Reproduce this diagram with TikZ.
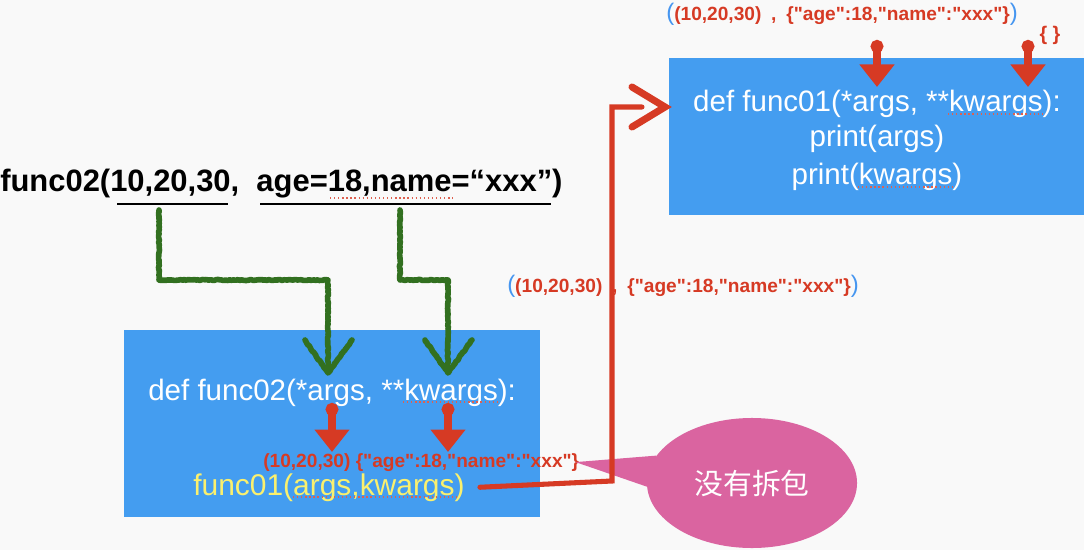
\documentclass[tikz,border=0pt]{standalone}
\usepackage{fontspec}
\setmainfont{Liberation Sans}
\newfontfamily\cjk{Noto Sans CJK SC}
\usetikzlibrary{arrows.meta,positioning,shapes.geometric,decorations.pathmorphing}
\definecolor{paper}{RGB}{249,249,249}
\definecolor{boxblue}{RGB}{68,157,240}
\definecolor{kwred}{RGB}{214,58,36}
\definecolor{moss}{RGB}{50,112,32}
\definecolor{lemon}{RGB}{250,240,110}
\definecolor{orchid}{RGB}{218,100,160}
\definecolor{parblue}{RGB}{70,150,240}
\tikzset{
  codebox/.style={fill=boxblue,inner sep=0pt,minimum width=10.4cm},
  code/.style={text=white,inner sep=0pt,font=\fontsize{21}{25}\selectfont},
  kwlabel/.style={text=kwred,inner sep=0pt,font=\fontsize{13.6}{16}\selectfont\bfseries},
  pass/.style={draw=kwred,line width=5pt,{Circle[length=9pt]}-{Triangle[length=16pt,width=24pt]}},
  crayon/.style={draw=moss,line width=4pt,line join=round,line cap=round,
    decorate,decoration={random steps,segment length=1.2pt,amplitude=0.35pt}},
  squiggle/.style={draw=kwred!80,line width=0.9pt,dotted},
  brush/.style={draw=kwred,line width=3.6pt,line cap=round},
}
% straight double quote, set as a glyph so no font mapping curls it
\newcommand{\dq}{\XeTeXglyph\XeTeXcharglyph"22\relax}
\newcommand{\kwdict}{\{\dq age\dq:18,\dq name\dq:\dq xxx\dq\}}
\newcommand{\bluepar}[1]{{\color{parblue}\fontsize{17}{20}\selectfont\mdseries#1}}
\newcommand{\packed}{\bluepar{(}{\color{kwred}(10,20,30)\hspace{7pt},\hspace{7pt}\kwdict}\bluepar{)}}

\begin{document}
\begin{tikzpicture}[x=0.025cm,y=-0.025cm]
  \fill[paper] (0,0) rectangle (1084,550);
  \useasboundingbox (0,0) rectangle (1084,550);

  % the two function bodies
  \node[codebox,minimum height=4.675cm] (outer) at (332,423.5) {};
  \node[codebox,minimum height=3.925cm] (inner) at (877,136.5) {};

  % the call
  \node[anchor=base west,inner sep=0pt,font=\fontsize{22}{26}\selectfont\bfseries] (call) at (0,192)
    {func02(10,20,30,\ \ age=18,name=“xxx”)};
  \draw[line width=2pt] (117,204) -- (228,204);
  \draw[line width=2pt] (260,204) -- (551,204);
  \draw[squiggle] (330,198) -- (453,198);

  % green hand drawn arrows
  \foreach \s/\t in {159/328,400/448} {
    \draw[crayon] (\s,210) |- (\t,280) -- (\t,372);
    \draw[crayon] (\t-23,340) -- (\t,373) -- (\t+24,340);
  }

  % func02 body
  \node[code,anchor=base west] (def02) at (148,400) {def func02(*args, **kwargs):};
  \draw[squiggle] (403,402) -- (497,402);
  \node[kwlabel,anchor=base west] (unpacked) at (263,467) {(10,20,30) \kwdict};
  \node[code,text=lemon,anchor=base west,font=\fontsize{21.3}{25}\selectfont] (call01) at (193,495) {func01(args,kwargs)};
  \draw[squiggle] (293,497) -- (460,497);
  \foreach \x in {332,448} \draw[pass] (\x,403) -- (\x,452);

  % func01 body
  \node[code,anchor=base] (def01) at (877,112) {def func01(*args, **kwargs):};
  \node[code,anchor=base] (pargs) at (877,147) {print(args)};
  \node[code,anchor=base] (pkwargs) at (877,185) {print(kwargs)};
  \draw[squiggle] (948,114) -- (1042,114);
  \draw[squiggle] (858,187) -- (952,187);
  \foreach \x in {877,1028} \draw[pass] (\x,40) -- (\x,87);
  \node[kwlabel,anchor=base west] (packtop) at (666,21) {\packed};
  \node[kwlabel,font=\fontsize{14}{16}\selectfont\bfseries] (empty) at (1050,35) {\{ \}};

  % speech bubble
  \node[ellipse,fill=orchid,minimum width=5.25cm,minimum height=3.25cm,inner sep=0pt,
    text=white,font=\cjk\fontsize{20.5}{24}\selectfont] (note) at (752,483) {没有拆包};
  \fill[orchid] (note.164) -- ([xshift=-0.1cm]unpacked.east) -- (note.182) -- cycle;

  % passing on without unpacking
  \node[kwlabel,anchor=base west] (packmid) at (507,292) {\packed};
  \coordinate (entry) at (665,107);
  \draw[brush] ([xshift=0.375cm]call01.east) -- (612,481) -- (612,107) -- (642,107);
  \draw[kwred,line width=5pt,line cap=round] (entry) ++(-33,-20) -- (entry) -- ++(-33,20);
\end{tikzpicture}
\end{document}
